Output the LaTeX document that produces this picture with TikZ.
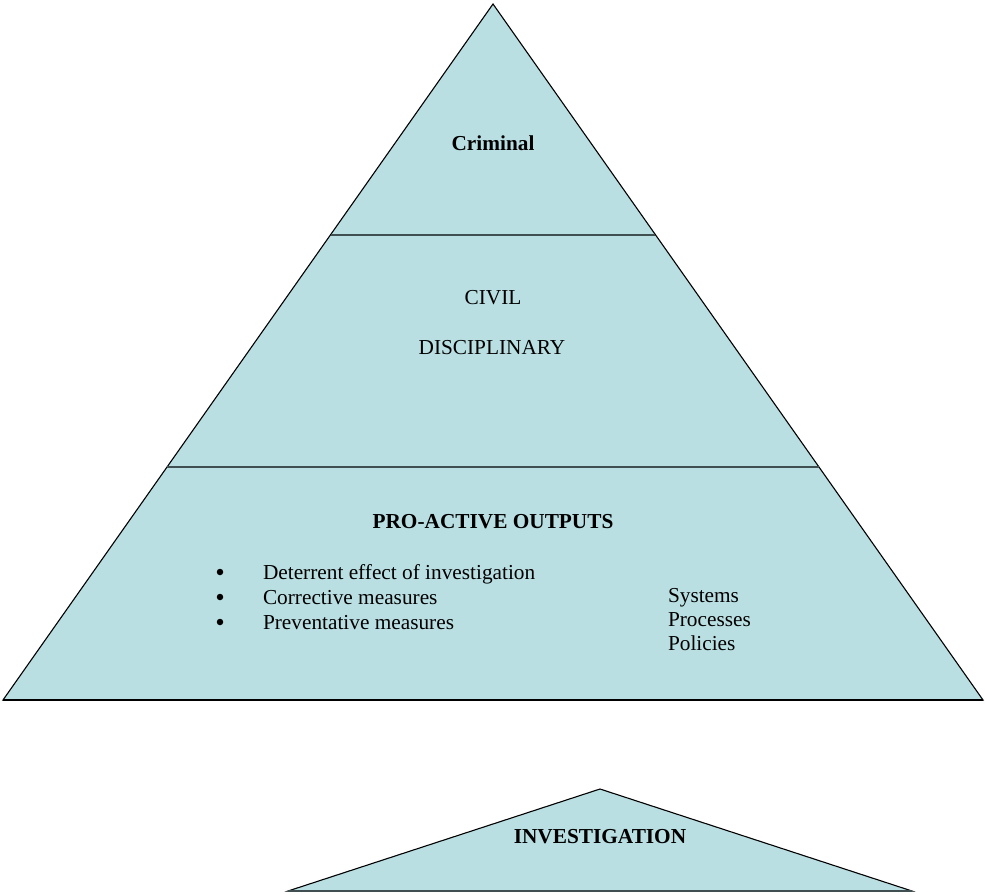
\documentclass[tikz,border=0pt]{standalone}
\usepackage{fontspec}
\setmainfont{Liberation Serif}
\definecolor{pyrfill}{RGB}{185,223,226}
\definecolor{divline}{RGB}{64,80,82}
\begin{document}
\begin{tikzpicture}[x=1pt,y=-1pt,
  txt/.style={inner sep=0pt,outer sep=0pt,font=\fontsize{21.3}{25}\selectfont},
  boldtxt/.style={txt,font=\fontsize{21.3}{25}\selectfont\bfseries},
  bul/.style={circle,fill=black,draw=none,inner sep=0pt,minimum size=6.5pt},
  tri/.style={fill=pyrfill,draw=black,line width=1.1pt,line join=miter},
  divider/.style={draw=divline,line width=2.2pt}]
\useasboundingbox (0,0) rectangle (985,894);
% main pyramid
\coordinate (apex) at (493,4);
\coordinate (bl) at (3,700);
\coordinate (br) at (983,700);
\path[tri] (apex) -- (br) -- (bl) -- cycle;
\draw[black,line width=1.6pt] (bl) -- (br);
\coordinate (d1l) at (331,235);
\coordinate (d1r) at (655,235);
\coordinate (d2l) at (167,467);
\coordinate (d2r) at (819,467);
\draw[divider] (d1l) -- (d1r);
\draw[divider] (d2l) -- (d2r);
% texts
\node[boldtxt,anchor=base] (criminal) at (493,150) {Criminal};
\node[txt,anchor=base] (civil) at (493,304) {CIVIL};
\node[txt,anchor=base] (disc) at (492,354) {DISCIPLINARY};
\node[boldtxt,anchor=base] (pro) at (493,528) {PRO-ACTIVE OUTPUTS};
\node[bul] (b1) at (220,572) {};
\node[bul] (b2) at (220,597) {};
\node[bul] (b3) at (220,622) {};
\node[txt,anchor=base west] (t1) at (263,579) {Deterrent effect of investigation};
\node[txt,anchor=base west] (t2) at (263,604) {Corrective measures};
\node[txt,anchor=base west] (t3) at (263,629) {Preventative measures};
\node[txt,anchor=base west] (s1) at (668,602) {Systems};
\node[txt,anchor=base west] (s2) at (668,626) {Processes};
\node[txt,anchor=base west] (s3) at (668,650) {Policies};
% investigation triangle
\coordinate (iapex) at (600,789);
\coordinate (ibl) at (288,891);
\coordinate (ibr) at (912,891);
\path[tri] (iapex) -- (ibr) -- (ibl) -- cycle;
\draw[divider] (ibl) -- (ibr);
\node[boldtxt,anchor=base] (inv) at (600,843) {INVESTIGATION};
\end{tikzpicture}
\end{document}
